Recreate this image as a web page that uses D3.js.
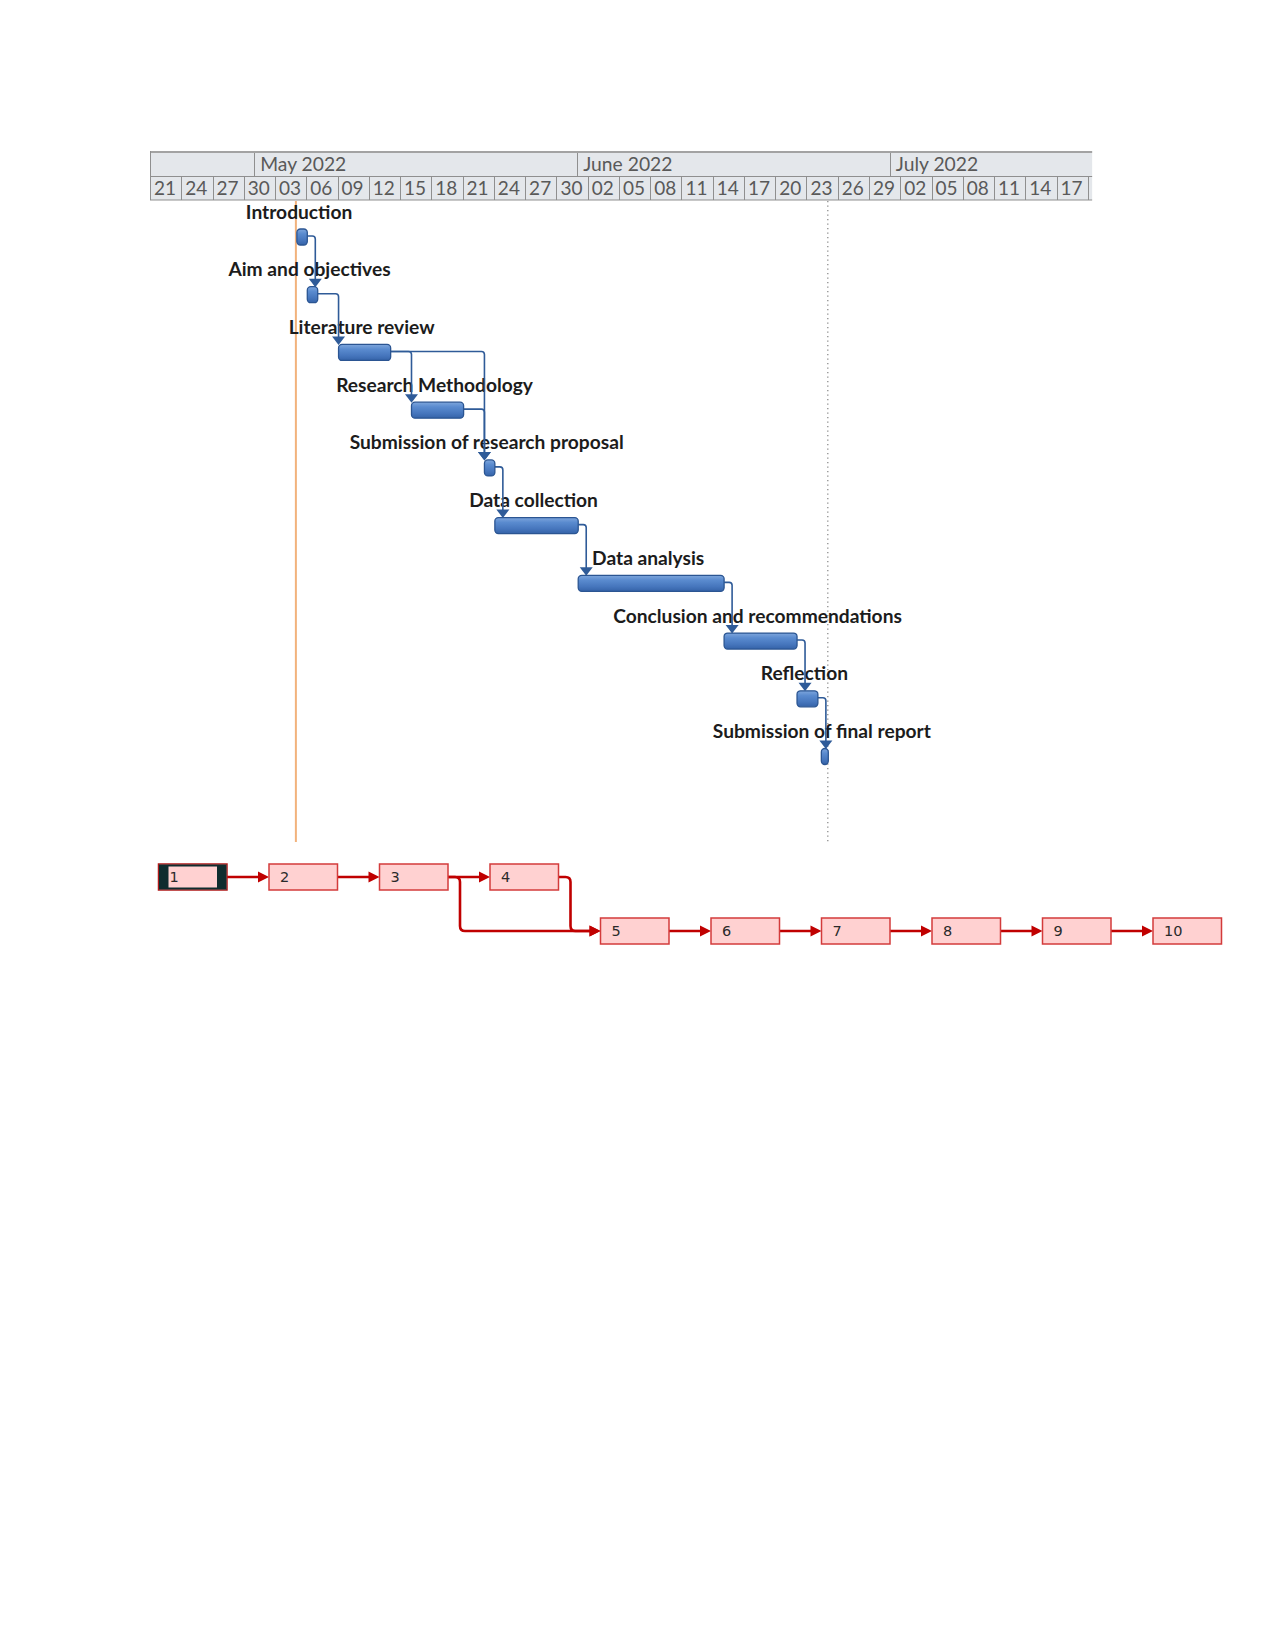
<!DOCTYPE html>
<html><head><meta charset="utf-8">
<script src="https://cdn.jsdelivr.net/npm/d3@7"></script>
<style>body{margin:0;background:#fff}</style>
</head><body>
<svg id="chart" width="1275" height="1650"></svg>
<script>
// ---------- DATA ----------
const taskNames = ["Introduction","Aim and objectives","Literature review","Research Methodology","Submission of research proposal","Data collection","Data analysis","Conclusion and recommendations","Reflection","Submission of final report"];
const taskStarts = ["2022-05-05","2022-05-06","2022-05-09","2022-05-16","2022-05-23","2022-05-24","2022-06-01","2022-06-15","2022-06-22","2022-06-24T08:00"];
const taskEnds   = ["2022-05-06","2022-05-07","2022-05-14","2022-05-21","2022-05-24","2022-06-01","2022-06-15","2022-06-22","2022-06-24","2022-06-25"];
const taskPreds  = [[],[1],[2],[3],[3,4],[5],[6],[7],[8],[9]];
const monthLabels = ["May 2022","June 2022","July 2022"];
const timelineStart = "2022-04-21";
const timelineEnd = "2022-07-20T10:00";
const projectStart = "2022-05-05";
const statusDate = "2022-06-25";
const nodeIds = ["1","2","3","4","5","6","7","8","9","10"];
const nodePreds = [[],[1],[2],[3],[3,4],[5],[6],[7],[8],[9]];

// ---------- SETUP ----------
const p1 = d3.timeParse("%Y-%m-%dT%H:%M"), p2 = d3.timeParse("%Y-%m-%d");
const parse = s => p1(s) || p2(s);
const svg = d3.select("#chart");
const t0 = parse(timelineStart), t1 = parse(timelineEnd);
const dayW = 10.42;
const x = d3.scaleTime().domain([t0, t1]).range([150, 150 + dayW * d3.timeHour.count(t0, t1) / 24]);
const y = d3.scalePoint().domain(d3.range(taskNames.length)).range([237, 756.5]);

const headTop = 151, headMid = 176.5, headBot = 200, chartBot = 842;
const xL = x.range()[0], xR = x.range()[1];

// ---------- HEADER ----------
const head = svg.append("g");
head.append("rect").attr("x", xL).attr("y", headTop).attr("width", xR - xL).attr("height", headBot - headTop).attr("fill", "#e4e7eb");
const months = d3.timeMonth.range(d3.timeMonth.ceil(t0), t1);
head.selectAll(".mline").data(months).join("line")
  .attr("x1", d => Math.round(x(d)) + 0.5).attr("x2", d => Math.round(x(d)) + 0.5)
  .attr("y1", headTop).attr("y2", headMid).attr("stroke", "#8f8f8f");
head.selectAll(".mtext").data(months).join("text")
  .attr("x", d => x(d) + 6).attr("y", headMid - 5.5)
  .attr("font-family", "Lato, sans-serif").attr("font-size", 19.3).attr("fill", "#595959")
  .text((d, i) => monthLabels[i]);
const days = d3.timeDay.range(t0, t1, 3);
const dayLabels = days.filter(d => d3.timeDay.offset(d, 3) <= t1);
head.selectAll(".dline").data(days).join("line")
  .attr("x1", d => Math.round(x(d)) + 0.5).attr("x2", d => Math.round(x(d)) + 0.5)
  .attr("y1", headMid).attr("y2", headBot).attr("stroke", "#8f8f8f");
head.selectAll(".dtext").data(dayLabels).join("text")
  .attr("x", d => x(d) + 4).attr("y", headBot - 5)
  .attr("font-family", "Lato, sans-serif").attr("font-size", 19).attr("fill", "#595959")
  .text(d3.timeFormat("%d"));
head.append("line").attr("x1", xL).attr("x2", xR).attr("y1", headTop + 1).attr("y2", headTop + 1).attr("stroke", "#a3a3a3").attr("stroke-width", 2);
head.append("line").attr("x1", xL).attr("x2", xR).attr("y1", headMid).attr("y2", headMid).attr("stroke", "#8f8f8f");
head.append("line").attr("x1", xL).attr("x2", xR).attr("y1", headBot).attr("y2", headBot).attr("stroke", "#8f8f8f");
head.append("line").attr("x1", xL + 0.5).attr("x2", xL + 0.5).attr("y1", headTop).attr("y2", headBot).attr("stroke", "#8f8f8f");

// ---------- GANTT ----------
const defs = svg.append("defs");
const grad = defs.append("linearGradient").attr("id", "barGrad").attr("x1", 0).attr("x2", 0).attr("y1", 0).attr("y2", 1);
[["0%", "#7ea6dc"], ["30%", "#5a8bcf"], ["70%", "#4676bd"], ["100%", "#3563a8"]].forEach(s => grad.append("stop").attr("offset", s[0]).attr("stop-color", s[1]));

const tasks = taskNames.map((n, i) => ({
  name: n, i, start: parse(taskStarts[i]), end: parse(taskEnds[i]), preds: taskPreds[i]
}));
const barH = 16;
const bx0 = d => x(d.start) + 1, bx1 = d => x(d.end) + 1;

// orange project start line and dotted status line
svg.append("line").attr("x1", x(parse(projectStart))).attr("x2", x(parse(projectStart)))
  .attr("y1", headBot + 1).attr("y2", chartBot).attr("stroke", "#f2b27c").attr("stroke-width", 2);
svg.append("line").attr("x1", x(parse(statusDate)) + 0.5).attr("x2", x(parse(statusDate)) + 0.5)
  .attr("y1", headBot + 1).attr("y2", chartBot).attr("stroke", "#8c8c8c").attr("stroke-width", 1.3)
  .attr("stroke-dasharray", "1.3,3.2");

// labels
svg.append("g").selectAll("text").data(tasks).join("text")
  .attr("x", d => (bx0(d) + bx1(d)) / 2 - 3).attr("y", d => y(d.i) - 18.5)
  .attr("text-anchor", "middle").attr("font-family", "Lato, sans-serif").attr("font-weight", 700)
  .attr("font-size", 19.2).attr("fill", "#1c1c1c").text(d => d.name);

// links
const linkG = svg.append("g");
tasks.forEach(t => {
  t.preds.forEach(pid => {
    const p = tasks[pid - 1];
    const ax = Math.max(bx0(t), bx1(p) + 8);
    const ys = y(p.i) - 1, top = y(t.i) - barH / 2;
    const r = 3;
    linkG.append("path")
      .attr("d", `M${bx1(p)},${ys} H${ax - r} Q${ax},${ys} ${ax},${ys + r} V${top - 7}`)
      .attr("fill", "none").attr("stroke", "#2f5b98").attr("stroke-width", 1.6);
    linkG.append("path")
      .attr("d", `M${ax - 6.5},${top - 8} L${ax + 6.5},${top - 8} L${ax},${top + 0.5} Z`)
      .attr("fill", "#2f5b98");
  });
});

// bars
svg.append("g").selectAll("rect").data(tasks).join("rect")
  .attr("x", bx0).attr("y", d => y(d.i) - barH / 2)
  .attr("width", d => bx1(d) - bx0(d)).attr("height", barH)
  .attr("rx", 3.5).attr("ry", 3.5)
  .attr("fill", "url(#barGrad)").attr("stroke", "#2b5592").attr("stroke-width", 1.3);

// ---------- NETWORK DIAGRAM ----------
const nodes = nodeIds.map((id, i) => ({ id, i, preds: nodePreds[i] }));
nodes.forEach(n => {
  const ps = n.preds.map(p => nodes[p - 1]);
  n.col = ps.length ? d3.max(ps, p => p.col) + 1 : 0;
  n.row = ps.length ? d3.max(ps, p => p.row) + (ps.length > 1 ? 1 : 0) : 0;
});
const nx = d3.scaleLinear().domain([0, 9]).range([158.5, 158.5 + 9 * 110.5]);
const ny = d3.scaleLinear().domain([0, 1]).range([877, 931]);
const boxW = 68.5, boxH = 26;
const red = "#c00000";

const netG = svg.append("g");
nodes.forEach(n => {
  n.preds.forEach(pid => {
    const p = nodes[pid - 1];
    const sx = nx(p.col) + boxW, sy = ny(p.row);
    const tx = nx(n.col), ty = ny(n.row);
    let d;
    if (p.row === n.row) {
      d = `M${sx},${sy} H${tx - 9}`;
    } else {
      const cx = sx + 12, r = 5;
      d = `M${sx},${sy} H${cx - r} Q${cx},${sy} ${cx},${sy + r} V${ty - r} Q${cx},${ty} ${cx + r},${ty} H${tx - 9}`;
    }
    netG.append("path").attr("d", d).attr("fill", "none").attr("stroke", red).attr("stroke-width", 2.6);
    netG.append("path").attr("d", `M${tx - 11},${ty - 5.5} L${tx},${ty} L${tx - 11},${ty + 5.5} Z`).attr("fill", red);
  });
});
nodes.forEach(n => {
  const g = netG.append("g").attr("transform", `translate(${nx(n.col)},${ny(n.row) - boxH / 2})`);
  g.append("rect").attr("x", 0).attr("y", 0).attr("width", boxW).attr("height", boxH)
    .attr("fill", "#ffd1d1").attr("stroke", n.i === 0 ? "#b01a1a" : "#d33b3b").attr("stroke-width", 1.5);
  if (n.i === 0) {
    g.append("rect").attr("x", 1.5).attr("y", 1.5).attr("width", boxW - 3).attr("height", boxH - 3)
      .attr("fill", "none").attr("stroke", "#0f2c2e").attr("stroke-width", 2);
    g.append("rect").attr("x", 1).attr("y", 1).attr("width", 9).attr("height", boxH - 2).attr("fill", "#0f2c2e");
    g.append("rect").attr("x", boxW - 10).attr("y", 1).attr("width", 9).attr("height", boxH - 2).attr("fill", "#0f2c2e");
  }
  g.append("text").attr("x", 11).attr("y", boxH / 2 + 5.3)
    .attr("font-family", "DejaVu Sans, sans-serif").attr("font-size", 14.5).attr("fill", "#2a2a2a")
    .text(n.id);
});
</script>
</body></html>
